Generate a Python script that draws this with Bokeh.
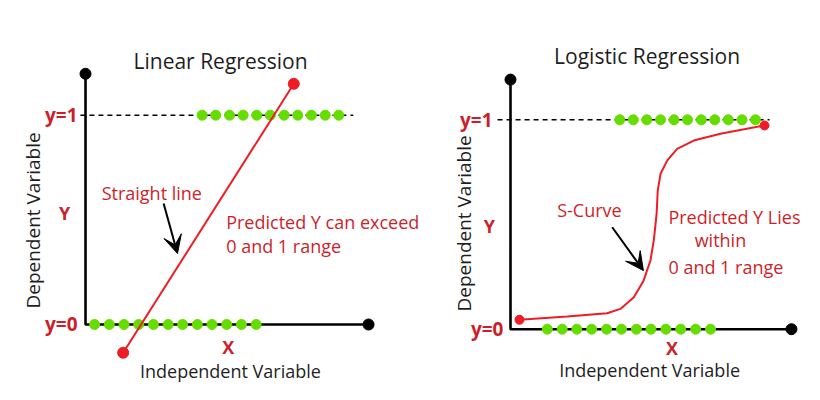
from math import pi
from bokeh.plotting import figure
from bokeh.layouts import row
from bokeh.models import Range1d, Arrow, VeeHead
from bokeh.core.properties import value
from bokeh.embed import file_html
from bokeh.resources import INLINE

# ---------------- data ----------------
# Linear regression panel
lin_top_x = [4.12, 4.60, 5.09, 5.57, 6.05, 6.53, 7.02, 7.50, 7.98, 8.47, 8.95]
lin_bot_x = [0.32, 0.84, 1.36, 1.88, 2.40, 2.92, 3.43, 3.95, 4.47, 4.99, 5.51, 6.03]
lin_line_x = [1.33, 7.36]
lin_line_y = [-0.135, 1.150]

# Logistic regression panel
log_top_x = [3.89, 4.37, 4.85, 5.34, 5.82, 6.30, 6.79, 7.27, 7.75, 8.24, 8.72]
log_bot_x = [1.31, 1.84, 2.36, 2.89, 3.42, 3.95, 4.48, 5.00, 5.53, 6.06, 6.59, 7.12]
s_curve_x = [0.32, 2.02, 3.44, 3.91, 4.39, 4.74, 4.98, 5.10, 5.20, 5.24, 5.34, 5.58, 5.93, 6.52, 7.47, 9.04]
s_curve_y = [0.045, 0.061, 0.076, 0.097, 0.153, 0.233, 0.328, 0.424, 0.551, 0.662, 0.742, 0.806, 0.861, 0.901, 0.933, 0.973]

titles = ["Linear Regression", "Logistic Regression"]
y_labels = ["y=1", "y=0"]
axis_names = ["Dependent Variable", "Independent Variable"]
lin_notes = ["Straight line", "Predicted Y can exceed", "0 and 1 range"]
log_notes = ["S-Curve", "Predicted Y Lies", "within", "0 and 1 range"]

FONT = "Open Sans"
RED_TXT = "#cc1f2b"
RED_LINE = "#ee1c24"
GREEN = "#66dd00"
DARK = "#1e1e1e"


def make_fig(w, xr, yr):
    p = figure(width=w, height=384, output_backend="svg", toolbar_location=None,
               x_range=Range1d(*xr), y_range=Range1d(*yr), min_border=0)
    p.axis.visible = False
    p.grid.visible = False
    p.outline_line_color = None
    p.background_fill_color = "white"
    p.border_fill_color = "white"
    return p


def txt(p, x, y, s, size, color, align="left", angle=0, style="normal"):
    p.text(x=[x], y=[y], text=[s], text_font=value(FONT), text_font_size=size,
           text_color=color, text_align=align, text_baseline="middle",
           angle=angle, text_font_style=style)


def axes(p, xend, ytop, dash_x0, dash_x1):
    p.line([dash_x0, dash_x1], [1, 1], line_color="black", line_width=1.6, line_dash="5 4")
    p.line([0, 0, xend], [ytop, 0, 0], line_color="black", line_width=2.6)
    p.scatter([0, xend], [ytop, 0], size=11, color="black")


# ---------------- left panel ----------------
p1 = make_fig(430, (-3.004, 12.19), (-0.2867, 1.548))
axes(p1, 10, 1.198, -0.18, 9.46)
p1.scatter(lin_top_x, [1] * len(lin_top_x), size=10, color=GREEN)
p1.scatter(lin_bot_x, [0] * len(lin_bot_x), size=10, color=GREEN)
p1.line(lin_line_x, lin_line_y, line_color=RED_LINE, line_width=2)
p1.scatter(lin_line_x, lin_line_y, size=11, color=RED_LINE)

txt(p1, 4.77, 1.261, titles[0], "21px", DARK, "center")
txt(p1, -0.28, 1.0, y_labels[0], "19px", RED_TXT, "right", style="bold")
txt(p1, -0.28, 0.0, y_labels[1], "19px", RED_TXT, "right", style="bold")
txt(p1, -0.74, 0.535, "Y", "18px", RED_TXT, "center", style="bold")
txt(p1, -1.84, 0.497, axis_names[0], "19px", DARK, "center", angle=pi / 2)
txt(p1, 5.04, -0.108, "X", "18px", RED_TXT, "center", style="bold")
txt(p1, 5.12, -0.220, axis_names[1], "18px", DARK, "center")
txt(p1, 0.57, 0.627, lin_notes[0], "18px", RED_TXT)
txt(p1, 4.97, 0.492, lin_notes[1], "18px", RED_TXT)
txt(p1, 4.97, 0.374, lin_notes[2], "18px", RED_TXT)
p1.add_layout(Arrow(x_start=2.76, y_start=0.578, x_end=3.25, y_end=0.339, line_width=2,
                    line_color="black",
                    end=VeeHead(size=18, fill_color="black", line_color="black")))

# ---------------- right panel ----------------
p2 = make_fig(374, (-2.847, 10.463), (-0.2641, 1.5697))
axes(p2, 10, 1.192, -0.46, 9.22)
p2.scatter(log_top_x, [1] * len(log_top_x), size=10, color=GREEN)
p2.scatter(log_bot_x, [0] * len(log_bot_x), size=10, color=GREEN)
p2.line(s_curve_x, s_curve_y, line_color=RED_LINE, line_width=2)
p2.scatter([s_curve_x[0], s_curve_x[-1]], [s_curve_y[0], s_curve_y[-1]], size=9, color=RED_LINE)

txt(p2, 4.86, 1.307, titles[1], "21px", DARK, "center")
txt(p2, -0.64, 1.0, y_labels[0], "19px", RED_TXT, "right", style="bold")
txt(p2, -0.25, 0.0, y_labels[1], "19px", RED_TXT, "right", style="bold")
txt(p2, -0.75, 0.492, "Y", "18px", RED_TXT, "center", style="bold")
txt(p2, -1.67, 0.505, axis_names[0], "19px", DARK, "center", angle=pi / 2)
txt(p2, 5.75, -0.092, "X", "18px", RED_TXT, "center", style="bold")
txt(p2, 4.95, -0.197, axis_names[1], "18px", DARK, "center")
txt(p2, 1.66, 0.567, log_notes[0], "18px", RED_TXT)
txt(p2, 5.62, 0.535, log_notes[1], "18px", RED_TXT)
txt(p2, 7.47, 0.424, log_notes[2], "18px", RED_TXT, "center")
txt(p2, 5.62, 0.299, log_notes[3], "18px", RED_TXT)
p2.add_layout(Arrow(x_start=3.62, y_start=0.487, x_end=4.73, y_end=0.280, line_width=2,
                    line_color="black",
                    end=VeeHead(size=18, fill_color="black", line_color="black")))

layout = row(p1, p2)
open("out.html", "w").write(file_html(layout, INLINE))
